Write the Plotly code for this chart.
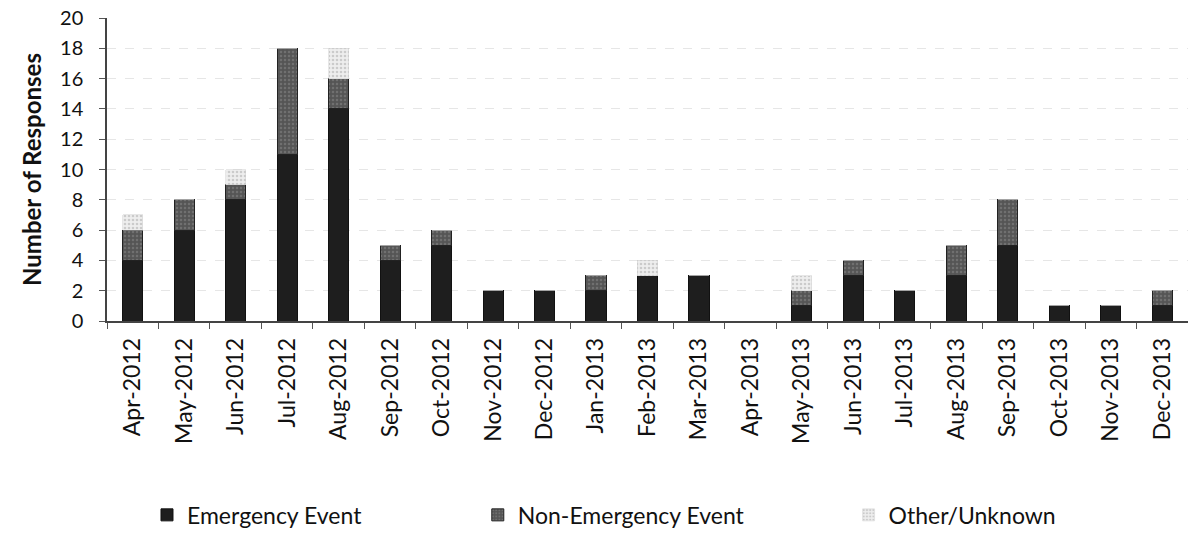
import plotly.graph_objects as go

months = ["Apr-2012", "May-2012", "Jun-2012", "Jul-2012", "Aug-2012", "Sep-2012", "Oct-2012",
          "Nov-2012", "Dec-2012", "Jan-2013", "Feb-2013", "Mar-2013", "Apr-2013", "May-2013",
          "Jun-2013", "Jul-2013", "Aug-2013", "Sep-2013", "Oct-2013", "Nov-2013", "Dec-2013"]
emergency = [4, 6, 8, 11, 14, 4, 5, 2, 2, 2, 3, 3, 0, 1, 3, 2, 3, 5, 1, 1, 1]
non_emergency = [2, 2, 1, 7, 2, 1, 1, 0, 0, 1, 0, 0, 0, 1, 1, 0, 2, 3, 0, 0, 1]
other = [1, 0, 1, 0, 2, 0, 0, 0, 0, 0, 1, 0, 0, 1, 0, 0, 0, 0, 0, 0, 0]
yticks = list(range(0, 21, 2))

FONT = "Lato, 'Open Sans', sans-serif"

fig = go.Figure()
fig.add_trace(go.Bar(x=months, y=emergency, name="Emergency Event", legend="legend",
                     marker=dict(color="#1e1e1e", line=dict(color="#111111", width=1))))
fig.add_trace(go.Bar(x=months, y=non_emergency, name="Non-Emergency Event", legend="legend2",
                     marker=dict(color="#555555", line=dict(color="#222222", width=1),
                                 pattern=dict(shape=".", fgcolor="#8a8a8a", size=4, solidity=0.3))))
fig.add_trace(go.Bar(x=months, y=other, name="Other/Unknown", legend="legend3",
                     marker=dict(color="#eeeeee", line=dict(color="#d0d0d0", width=0.5),
                                 pattern=dict(shape=".", fgcolor="#a8a8a8", size=4, solidity=0.35))))

# plot area: 1081 x 303 px
leg_common = dict(orientation="h", yanchor="middle", y=-0.64, xanchor="left",
                  font=dict(size=23, color="#111111"), bgcolor="rgba(0,0,0,0)",
                  itemwidth=30)

fig.update_layout(
    showlegend=True,
    barmode="stack",
    bargap=0.61,
    width=1188, height=533,
    margin=dict(l=107, r=0, t=18, b=212, autoexpand=False),
    paper_bgcolor="white", plot_bgcolor="white",
    font=dict(family=FONT, size=18, color="#111111"),
    legend=dict(x=0.037, **leg_common),
    legend2=dict(x=0.343, **leg_common),
    legend3=dict(x=0.686, **leg_common),
    xaxis=dict(tickangle=-90, ticks="outside", tickson="boundaries", ticklen=6,
               tickcolor="#555555", showline=True, linecolor="#444444", linewidth=1.5,
               tickfont=dict(size=23), showgrid=False, automargin=False,
               ticklabelstandoff=6),
    yaxis=dict(range=[0, 20], tickvals=yticks, ticks="outside", ticklen=6,
               tickcolor="#555555", showline=True, linecolor="#444444", linewidth=1.5,
               gridcolor="#e6e6e6", griddash="dash", zeroline=False,
               tickfont=dict(size=20), automargin=False, ticklabelstandoff=12,
               ticklabeloverflow="allow",
               title=dict(text="<b>Number of Responses</b>", font=dict(size=24), standoff=12)),
)

fig.write_html("out.html", config={"displayModeBar": False},
               post_script="document.body.style.margin='0';")
